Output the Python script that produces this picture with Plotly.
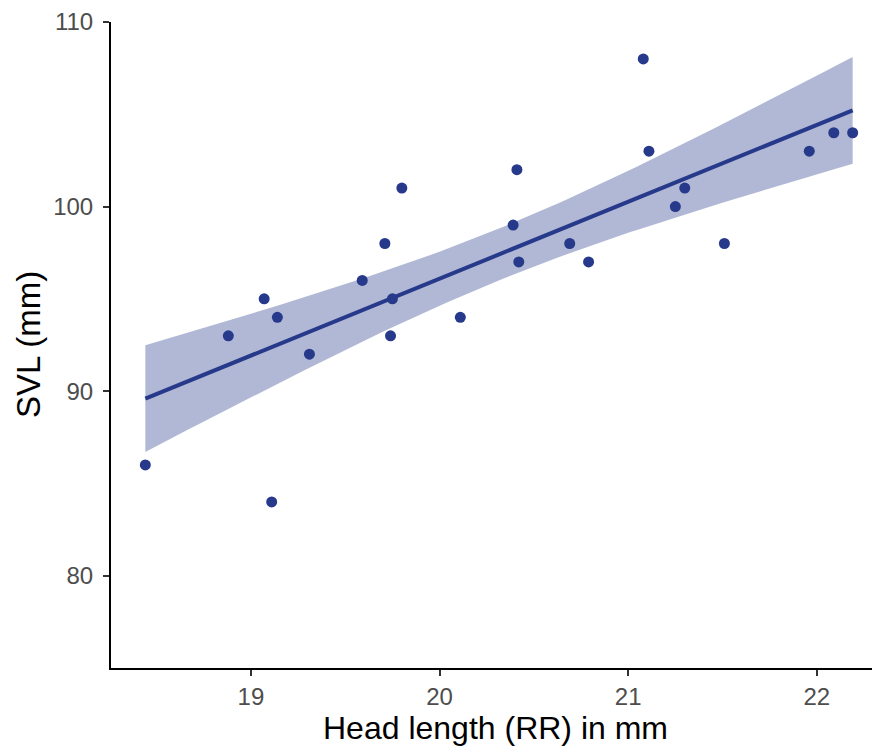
import numpy as np
import plotly.graph_objects as go

# Data
head_length = [18.44, 18.88, 19.07, 19.14, 19.11, 19.31, 19.59, 19.71, 19.74, 19.75,
               19.80, 20.11, 20.39, 20.41, 20.42, 20.69, 20.79, 21.08, 21.11, 21.25,
               21.30, 21.51, 21.96, 22.09, 22.19]
svl = [86, 93, 95, 94, 84, 92, 96, 98, 93, 95,
       101, 94, 99, 102, 97, 98, 97, 108, 103, 100,
       101, 98, 103, 104, 104]

x_ticks = [19, 20, 21, 22]
y_ticks = [80, 90, 100, 110]

# Linear model fit with 95% confidence band (as geom_smooth(method="lm"))
x = np.array(head_length, dtype=float)
y = np.array(svl, dtype=float)
n = len(x)
b1, b0 = np.polyfit(x, y, 1)
resid = y - (b0 + b1 * x)
s = np.sqrt(np.sum(resid ** 2) / (n - 2))
sxx = np.sum((x - x.mean()) ** 2)
t_crit = 2.0687  # t(0.975, df=23)
xs = np.linspace(x.min(), x.max(), 80)
ys = b0 + b1 * xs
se = s * np.sqrt(1.0 / n + (xs - x.mean()) ** 2 / sxx)
upper = ys + t_crit * se
lower = ys - t_crit * se

navy = "#27398A"
band = "rgba(39,57,138,0.36)"

fig = go.Figure()
fig.add_trace(go.Scatter(
    x=np.concatenate([xs, xs[::-1]]), y=np.concatenate([upper, lower[::-1]]),
    fill="toself", fillcolor=band, line=dict(width=0), mode="lines",
    hoverinfo="skip", showlegend=False))
fig.add_trace(go.Scatter(x=xs, y=ys, mode="lines",
                         line=dict(color=navy, width=4), showlegend=False))
fig.add_trace(go.Scatter(x=head_length, y=svl, mode="markers",
                         marker=dict(color=navy, size=11), showlegend=False))

font_family = "Liberation Sans, Arial, Helvetica, sans-serif"
fig.update_layout(
    width=872, height=743,
    margin=dict(l=103, r=0, t=14, b=83),
    paper_bgcolor="white", plot_bgcolor="white",
    font=dict(family=font_family, color="#000000"),
    showlegend=False,
)
fig.update_xaxes(
    range=[18.258, 22.335], tickvals=x_ticks, ticktext=[str(v) for v in x_ticks],
    automargin=False,
    showgrid=False, zeroline=False, showline=True, linecolor="#000000", linewidth=2,
    ticks="outside", ticklen=6, tickwidth=2, tickcolor="#333333",
    tickfont=dict(size=24, color="#4D4D4D", family=font_family),
    title=dict(text="Head length (RR) in mm", font=dict(size=32, color="#000000", family=font_family),
               standoff=4),
)
fig.update_yaxes(
    range=[75, 110], tickvals=y_ticks, ticktext=[str(v) for v in y_ticks],
    automargin=False,
    showgrid=False, zeroline=False, showline=True, linecolor="#000000", linewidth=2,
    ticks="outside", ticklen=6, tickwidth=2, tickcolor="#333333", ticklabelstandoff=5,
    tickfont=dict(size=24, color="#4D4D4D", family=font_family),
)
fig.add_annotation(
    text="SVL (mm)", textangle=-90, xref="paper", yref="paper",
    x=-83.0 / 769.0, y=0.5, xanchor="center", yanchor="middle", showarrow=False,
    font=dict(size=33, color="#000000", family=font_family),
)

fig.write_html("out.html")
